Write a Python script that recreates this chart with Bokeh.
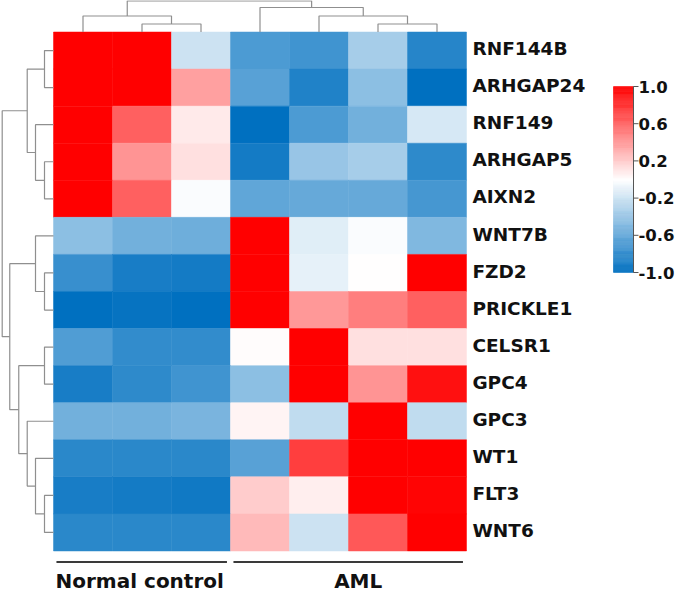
import numpy as np
from bokeh.plotting import figure
from bokeh.models import Range1d, LinearColorMapper, ColumnDataSource
from bokeh.core.properties import value
from bokeh.embed import file_html
from bokeh.resources import INLINE

# ---------------- data ----------------
genes = ["RNF144B", "ARHGAP24", "RNF149", "ARHGAP5", "AIXN2", "WNT7B", "FZD2",
         "PRICKLE1", "CELSR1", "GPC4", "GPC3", "WT1", "FLT3", "WNT6"]
n_samples = 7
groups = ["Normal control", "AML"]
group_start = [0, 3]
group_end = [3, 7]

RNF144B = [1.00, 1.00, -0.20, -0.70, -0.75, -0.35, -0.85]
ARHGAP24 = [1.00, 1.00, 0.37, -0.65, -0.87, -0.45, -1.00]
RNF149 = [1.00, 0.62, 0.08, -1.00, -0.70, -0.55, -0.16]
ARHGAP5 = [1.00, 0.42, 0.12, -0.92, -0.40, -0.35, -0.82]
AIXN2 = [1.00, 0.62, -0.02, -0.62, -0.60, -0.60, -0.72]
WNT7B = [-0.45, -0.55, -0.57, 1.00, -0.12, -0.02, -0.50]
FZD2 = [-0.78, -0.90, -0.92, 1.00, -0.10, 0.00, 1.00]
PRICKLE1 = [-1.00, -0.97, -1.00, 1.00, 0.40, 0.50, 0.62]
CELSR1 = [-0.68, -0.80, -0.80, 0.01, 1.00, 0.12, 0.12]
GPC4 = [-0.90, -0.82, -0.75, -0.45, 1.00, 0.42, 0.93]
GPC3 = [-0.55, -0.55, -0.52, 0.04, -0.25, 1.00, -0.25]
WT1 = [-0.83, -0.83, -0.83, -0.65, 0.75, 1.00, 1.00]
FLT3 = [-0.90, -0.92, -0.93, 0.20, 0.07, 1.00, 0.98]
WNT6 = [-0.83, -0.83, -0.83, 0.27, -0.20, 0.65, 1.00]
rows = [RNF144B, ARHGAP24, RNF149, ARHGAP5, AIXN2, WNT7B, FZD2, PRICKLE1,
        CELSR1, GPC4, GPC3, WT1, FLT3, WNT6]

# dendrogram merges (scipy style: index >= n refers to an earlier merge), heights
col_merges = [(1, 2, 1.0), (0, 7, 2.0), (5, 6, 1.0), (4, 9, 2.0), (3, 10, 3.06), (8, 11, 3.9)]
row_merges = [(0, 1, 1.0), (3, 4, 1.0), (2, 15, 2.0), (14, 16, 2.92), (6, 7, 1.0),
              (5, 18, 2.0), (8, 9, 1.0), (12, 13, 1.0), (11, 21, 2.0), (10, 22, 2.92),
              (20, 23, 3.86), (19, 24, 4.86), (17, 25, 5.7)]

cbar_ticks = [1.0, 0.6, 0.2, -0.2, -0.6, -1.0]

# ---------------- colours ----------------
def rgb_for(v):
    if v >= 0:
        c = 255 * (1 - v)
        r, g, b = 255, c, c
    else:
        t = -v
        r, g, b = 255 - 255 * t, 255 - (255 - 112) * t, 255 - (255 - 192) * t
    return "#%02x%02x%02x" % (int(round(r)), int(round(g)), int(round(b)))

palette = [rgb_for(v) for v in np.linspace(-1, 1, 256)]
mapper = LinearColorMapper(palette=palette, low=-1, high=1)

# ---------------- layout (pixel geometry) ----------------
W, H = 677, 594
CELL_W, CELL_H = 59.0, 37.07
LEFT, TOP = 53.0, 31.5  # heatmap top-left inside the figure
x_start = -LEFT / CELL_W
x_end = (W - LEFT) / CELL_W
y_top = -TOP / CELL_H
y_bot = (H - TOP) / CELL_H

p = figure(width=W, height=H, x_range=Range1d(x_start, x_end),
           y_range=Range1d(y_bot, y_top), output_backend="svg",
           toolbar_location=None, min_border=0)
p.min_border_left = p.min_border_right = p.min_border_top = p.min_border_bottom = 0
p.axis.visible = False
p.grid.visible = False
p.outline_line_color = None
p.background_fill_color = "white"
p.border_fill_color = "white"

# heatmap
xs, ys, vals = [], [], []
for i, r in enumerate(rows):
    for j, v in enumerate(r):
        xs.append(j + 0.5)
        ys.append(i + 0.5)
        vals.append(v)
src = ColumnDataSource(dict(x=xs, y=ys, v=vals))
p.rect(x="x", y="y", width=1, height=1, source=src,
       fill_color={"field": "v", "transform": mapper},
       line_color={"field": "v", "transform": mapper}, line_width=0.5)

# dendrograms
def dendro_lines(merges, n):
    pos = {i: i + 0.5 for i in range(n)}
    hgt = {i: 0.0 for i in range(n)}
    lines = []
    for k, (a, b, h) in enumerate(merges):
        idx = n + k
        lines.append(([pos[a], pos[a], pos[b], pos[b]], [hgt[a], h, h, hgt[b]]))
        pos[idx] = (pos[a] + pos[b]) / 2
        hgt[idx] = h
    return lines

TOP_UNIT = 8.0 / CELL_H   # level -> data units above heatmap
LEFT_UNIT = 9.0 / CELL_W  # level -> data units left of heatmap
dcol = "#8f8f8f"

cl = dendro_lines(col_merges, n_samples)
p.multi_line(xs=[c[0] for c in cl], ys=[[-h * TOP_UNIT for h in c[1]] for c in cl],
             line_color=dcol, line_width=1.2)
rl = dendro_lines(row_merges, len(genes))
p.multi_line(xs=[[-h * LEFT_UNIT for h in c[1]] for c in rl], ys=[c[0] for c in rl],
             line_color=dcol, line_width=1.2)

# gene labels
p.text(x=[n_samples + 0.1] * len(genes), y=[i + 0.45 for i in range(len(genes))], text=genes,
       text_font=value("DejaVu Sans"), text_font_style="bold", text_font_size="18.5px",
       text_baseline="middle", text_align="left", text_color="#111111")

# group brackets and labels
gx0 = [s + 0.05 for s in group_start]
gx1 = [e - 0.06 for e in group_end]
p.segment(x0=gx0, y0=[len(genes) + 0.3] * 2, x1=gx1, y1=[len(genes) + 0.3] * 2,
          line_color="#3a3a3a", line_width=2)
p.text(x=[(a + b) / 2 for a, b in zip(gx0, gx1)], y=[len(genes) + 0.8] * 2, text=groups,
       x_offset=[-2, 10],
       text_font=value("DejaVu Sans"), text_font_style="bold", text_font_size="20px",
       text_baseline="middle", text_align="center", text_color="#111111")

# colour bar (drawn with the same mapper)
CB_X0 = (613 - LEFT) / CELL_W
CB_X1 = (633 - LEFT) / CELL_W
CB_TOP = (86 - TOP) / CELL_H
CB_BOT = (272 - TOP) / CELL_H

def cb_y(v):
    return CB_BOT + (v + 1) / 2 * (CB_TOP - CB_BOT)

nstrip = 200
edges = np.linspace(-1, 1, nstrip + 1)
mids = (edges[:-1] + edges[1:]) / 2
cb_src = ColumnDataSource(dict(bottom=[cb_y(e) for e in edges[:-1]],
                               top=[cb_y(e) for e in edges[1:]], v=mids))
p.quad(left=CB_X0, right=CB_X1, bottom="bottom", top="top", source=cb_src,
       fill_color={"field": "v", "transform": mapper},
       line_color={"field": "v", "transform": mapper}, line_width=0.5)
p.segment(x0=[CB_X1], y0=[cb_y(-1)], x1=[CB_X1], y1=[cb_y(1)], line_color="#555555", line_width=1)
tick_len = 5 / CELL_W
p.segment(x0=[CB_X1] * len(cbar_ticks), y0=[cb_y(t) for t in cbar_ticks],
          x1=[CB_X1 + tick_len] * len(cbar_ticks), y1=[cb_y(t) for t in cbar_ticks],
          line_color="#555555", line_width=1)
p.text(x=[CB_X1 + 5 / CELL_W] * len(cbar_ticks), y=[cb_y(t) for t in cbar_ticks],
       text=["%.1f" % t for t in cbar_ticks],
       text_font=value("DejaVu Sans"), text_font_style="bold", text_font_size="16.5px",
       text_baseline="middle", text_align="left", text_color="#111111")

open("out.html", "w").write(file_html(p, INLINE))
